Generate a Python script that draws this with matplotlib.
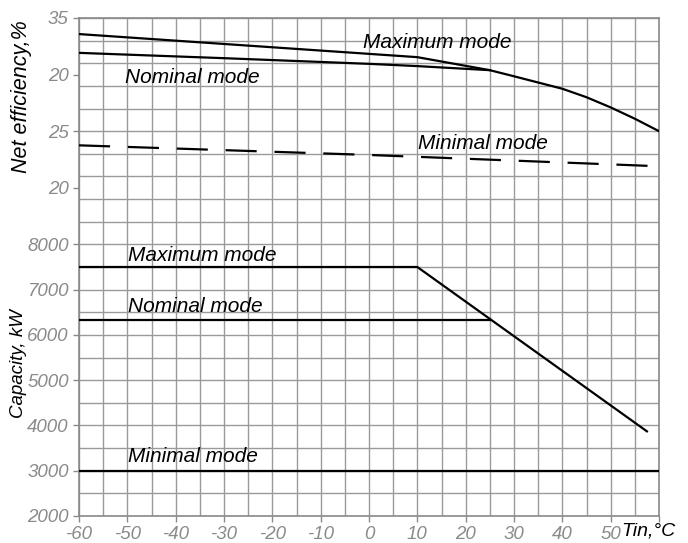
import numpy as np
import matplotlib
matplotlib.use('Agg')
import matplotlib.pyplot as plt
from matplotlib.ticker import MultipleLocator

plt.rcParams['font.family'] = ['Liberation Sans', 'DejaVu Sans']
plt.rcParams['font.style'] = 'italic'

#%% data
# net efficiency, %
eff_max_t = [-60, 10, 25, 30, 35, 40, 45, 50, 55, 60]
eff_max = [33.58, 31.54, 30.39, 29.85, 29.3, 28.75, 28.0, 27.1, 26.1, 25.0]
eff_nom_t = [-60, -30, 0, 10, 25]
eff_nom = [31.92, 31.45, 30.95, 30.75, 30.39]
eff_min_t = [-60, 0, 60]
eff_min = [23.75, 22.9, 21.9]

# capacity, kW
cap_max_t = [-60, 10, 57.5]
cap_max = [7500, 7500, 3870]
cap_nom_t = [-60, 25]
cap_nom = [6320, 6320]
cap_min_t = [-60, 60]
cap_min = [3000, 3000]

x_ticks = [-60, -50, -40, -30, -20, -10, 0, 10, 20, 30, 40, 50, 60]
x_labels = ['-60', '-50', '-40', '-30', '-20', '-10', '0', '10', '20', '30', '40', '50', '']
cap_ticks = [2000, 3000, 4000, 5000, 6000, 7000, 8000]
eff_ticks = [20, 25, 30, 35]
eff_labels = ['20', '25', '20', '35']   # as printed on the original

gray = '#8a8a8a'
grid_gray = '#9a9a9a'

fig = plt.figure(figsize=(6.88, 5.43), dpi=100)
ax = fig.add_axes([79/688, 27/543, 580/688, 498/543])

ax.set_xlim(-60, 60)
ax.set_ylim(2000, 13000)
ax.set_xticks(x_ticks)
ax.set_xticklabels(x_labels)
ax.xaxis.set_minor_locator(MultipleLocator(5))
ax.set_yticks(cap_ticks)
ax.yaxis.set_minor_locator(MultipleLocator(500))
ax.grid(True, which='both', color=grid_gray, lw=1.0)
ax.tick_params(which='minor', length=0)
ax.tick_params(which='major', length=4, color=gray, labelcolor=gray,
               labelsize=13.5, width=1)
for s in ax.spines.values():
    s.set_color(gray)
    s.set_linewidth(1.2)

# capacity curves
ax.plot(cap_max_t, cap_max, color='black', lw=1.6, zorder=3)
ax.plot(cap_nom_t, cap_nom, color='black', lw=1.6, zorder=3)
ax.plot(cap_min_t, cap_min, color='black', lw=1.6, zorder=3)

# efficiency on a twin scale, drawn on the left
ax2 = ax.twinx()
ax2.set_ylim(-9, 35)
ax2.yaxis.tick_left()
ax2.set_yticks(eff_ticks)
ax2.set_yticklabels(eff_labels)
ax2.tick_params(length=4, color=gray, labelcolor=gray, labelsize=13.5, width=1)
for s in ax2.spines.values():
    s.set_visible(False)

ax2.plot(eff_max_t, eff_max, color='black', lw=1.6)
ax2.plot(eff_nom_t, eff_nom, color='black', lw=1.6)
ax2.plot(eff_min_t, eff_min, color='black', lw=1.6, dashes=(14, 8))

fs = 15
ax2.text(-1.2, 32.35, 'Maximum mode', fontsize=fs)
ax2.text(-50.5, 29.3, 'Nominal mode', fontsize=fs)
ax2.text(10.1, 23.45, 'Minimal mode', fontsize=fs)
ax.text(-49.9, 7640, 'Maximum mode', fontsize=fs)
ax.text(-49.9, 6500, 'Nominal mode', fontsize=fs)
ax.text(-49.9, 3190, 'Minimal mode', fontsize=fs)

fig.text(22/688, 1 - 97/543, 'Net efficiency,%', rotation=90, fontsize=15.5,
         ha='center', va='center')
fig.text(19/688, 1 - 363/543, 'Capacity, kW', rotation=90, fontsize=13.5,
         ha='center', va='center')
fig.text(621/688, 1 - 522/543, 'Tin,°C', fontsize=14, ha='left', va='top')

fig.savefig('out.png', dpi=100)
